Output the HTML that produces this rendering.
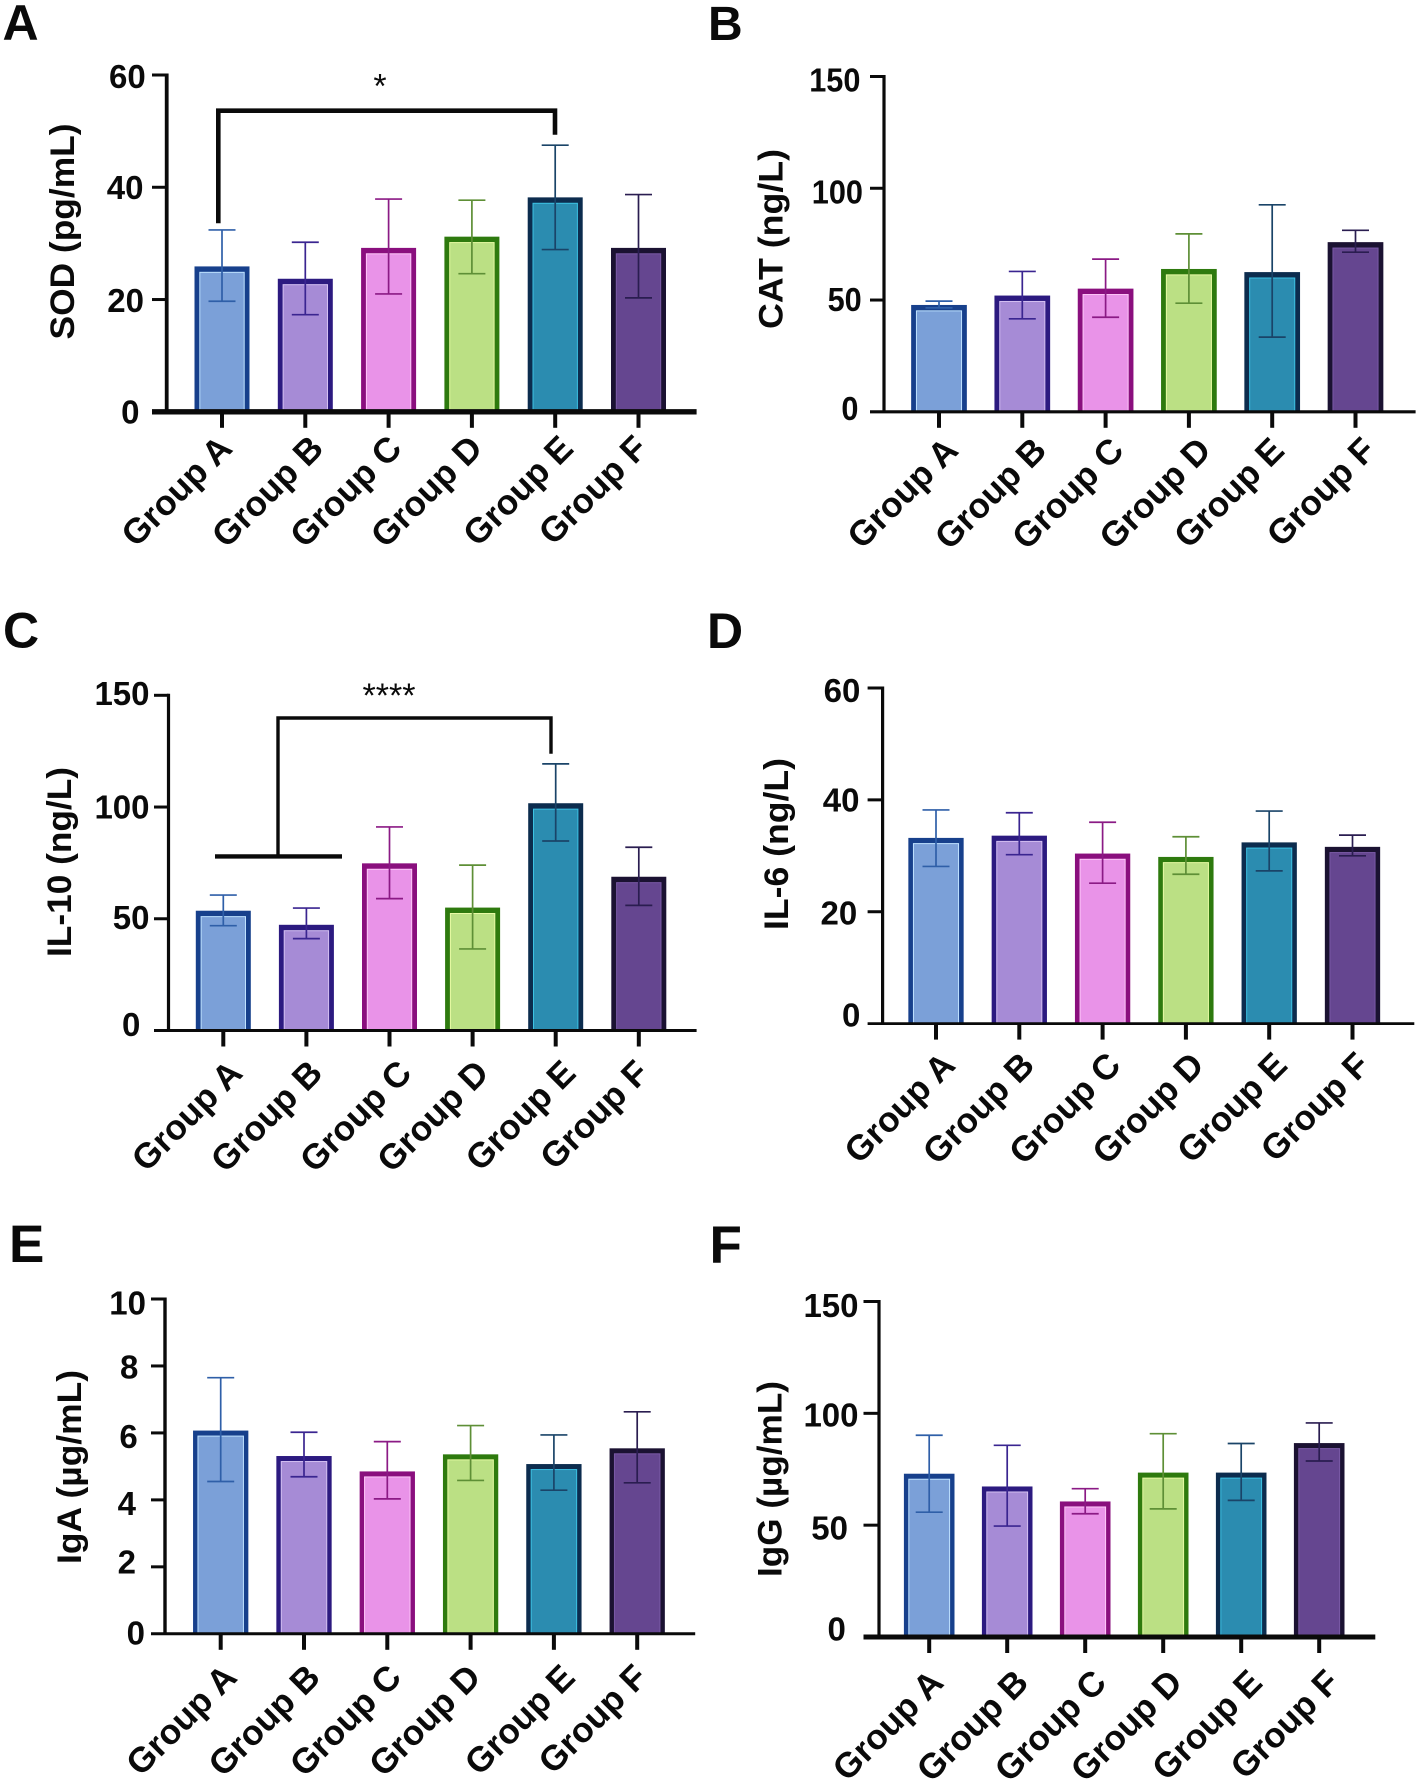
<!DOCTYPE html>
<html lang="en">
<head>
<meta charset="utf-8">
<title>Six-panel group bar charts</title>
<style>
html,body{margin:0;padding:0;background:#fff;overflow:hidden;}
svg{display:block;}
text{font-family:"Liberation Sans",sans-serif;font-weight:700;fill:#0a0a0a;}
</style>
</head>
<body>
<svg id="figure" xmlns="http://www.w3.org/2000/svg" width="1417" height="1787" viewBox="0 0 1417 1787"></svg>
<script>
// ---------- shared categories ----------
const categories = ["Group A", "Group B", "Group C", "Group D", "Group E", "Group F"];

// ---------- panel A: SOD ----------
const sodTicks = [0, 20, 40, 60];
const sodMeans = [25.9, 23.7, 29.2, 31.2, 38.2, 29.2];
const sodUpper = [32.4, 30.2, 37.9, 37.7, 47.5, 38.7];
const sodLower = [19.7, 17.3, 21.0, 24.6, 28.9, 20.3];

// ---------- panel B: CAT ----------
const catTicks = [0, 50, 100, 150];
const catMeans = [47.8, 52.0, 55.1, 63.9, 62.5, 75.9];
const catUpper = [49.5, 62.8, 68.3, 79.6, 92.6, 81.2];
const catLower = [46.5, 41.6, 42.3, 48.6, 33.4, 71.4];

// ---------- panel C: IL-10 ----------
const il10Ticks = [0, 50, 100, 150];
const il10Means = [53.6, 47.3, 74.8, 55.0, 101.7, 68.8];
const il10Upper = [60.6, 54.8, 91.1, 74.0, 119.3, 82.0];
const il10Lower = [46.9, 41.1, 59.0, 36.5, 84.8, 56.0];

// ---------- panel D: IL-6 ----------
const il6Ticks = [0, 20, 40, 60];
const il6Means = [33.2, 33.6, 30.4, 29.8, 32.4, 31.6];
const il6Upper = [38.2, 37.7, 36.0, 33.4, 38.0, 33.7];
const il6Lower = [28.1, 30.2, 25.1, 26.7, 27.3, 30.0];

// ---------- panel E: IgA ----------
const igaTicks = [0, 2, 4, 6, 8, 10];
const igaMeans = [6.07, 5.31, 4.85, 5.36, 5.07, 5.54];
const igaUpper = [7.65, 6.02, 5.74, 6.22, 5.94, 6.63];
const igaLower = [4.55, 4.69, 4.03, 4.58, 4.29, 4.51];

// ---------- panel F: IgG ----------
const iggTicks = [0, 50, 100, 150];
const iggMeans = [73.0, 67.3, 60.6, 73.5, 73.5, 86.7];
const iggUpper = [90.2, 85.7, 66.3, 90.9, 86.5, 95.7];
const iggLower = [55.8, 49.6, 55.1, 57.3, 61.1, 78.7];

// ---------- styling (per category) ----------
const barFill = ["#7ba0d8", "#a68bd6", "#e993e8", "#bbe084", "#2b8cb0", "#654690"];
const barEdge = ["#17408c", "#2c1a80", "#8a0f7e", "#2e7a0e", "#0c2c4e", "#1b1232"];
const barGlow = ["#bfe2ff", "#d4c0f2", "#ffc8fa", "#e8fba4", "#3cc2e4", "#7a5aa6"];
const errColor = ["#2f5fa8", "#3a2590", "#8b1a85", "#5e8f36", "#1a4468", "#2a1d50"];

const svg = document.getElementById("figure");
const NS = "http://www.w3.org/2000/svg";

function make(parent, tag, attrs, text) {
  const el = document.createElementNS(NS, tag);
  for (const k in attrs) el.setAttribute(k, attrs[k]);
  if (text !== undefined) el.textContent = text;
  parent.appendChild(el);
  return el;
}

function drawPanel(p) {
  const panel = make(svg, "g", {});
  
  

  const maxV = p.ticks[p.ticks.length - 1];
  const yOf = v => p.zero - v * (p.zero - p.top) / maxV;
  const xOf = i => p.x0 + i * p.step;

  // panel letter
  const letter = make(panel, "text", {
    x: p.letter.x, y: p.letter.y,
    "font-size": p.letter.size
  }, p.letter.t);
  
  

  // bars + error bars
  categories.forEach((c, i) => {
    const cx = xOf(i);
    const w = p.barW;
    const sw = p.barSw;
    const topSw = sw + 0.6;
    const yTop = yOf(p.means[i]);
    const bar = make(panel, "g", {});
    
    
    make(bar, "rect", { x: cx - w / 2, y: yTop, width: w, height: p.zero - yTop, fill: barEdge[i] });
    make(bar, "rect", { x: cx - w / 2 + sw, y: yTop + topSw, width: w - 2 * sw, height: Math.max(0, p.zero - yTop - topSw), fill: barGlow[i] });
    make(bar, "rect", { x: cx - w / 2 + sw + 1, y: yTop + topSw + 1, width: w - 2 * sw - 2, height: Math.max(0, p.zero - yTop - topSw - 1), fill: barFill[i] });

    const err = make(panel, "g", { stroke: errColor[i], "stroke-width": 1.7, fill: "none" });
    
    
    make(err, "line", { x1: cx, x2: cx, y1: yOf(p.upper[i]), y2: yOf(p.lower[i]) });
    make(err, "line", { x1: cx - 13.5, x2: cx + 13.5, y1: yOf(p.upper[i]), y2: yOf(p.upper[i]) });
    make(err, "line", { x1: cx - 13.5, x2: cx + 13.5, y1: yOf(p.lower[i]), y2: yOf(p.lower[i]) });

    // category tick + label
    const tick = make(panel, "line", { x1: cx, x2: cx, y1: p.zero, y2: p.zero + 16, stroke: "#0a0a0a", "stroke-width": 4 });
    
    

    const lx = cx + p.labelDx[i] + 2;
    const ly = p.zero + p.labelDy + 0.5;
    const label = make(panel, "text", {
      transform: "translate(" + lx + "," + ly + ") rotate(-45)",
      "text-anchor": "end",
      "font-size": p.labelSize
    }, c);
    
    
  });

  // y axis
  const yAxis = make(panel, "line", { x1: p.axisX, x2: p.axisX, y1: p.top - 1.5, y2: p.zero, stroke: "#0a0a0a", "stroke-width": p.ySw });
  
  

  // x axis
  const xAxis = make(panel, "line", { x1: p.left, x2: p.right, y1: p.zero, y2: p.zero, stroke: "#0a0a0a", "stroke-width": p.xSw });
  
  

  // y ticks + labels
  p.ticks.forEach((t, i) => {
    const ty = yOf(t);
    if (t !== 0) {
      const tk = make(panel, "line", { x1: p.left, x2: p.axisX, y1: ty, y2: ty, stroke: "#0a0a0a", "stroke-width": 3 });
      
      
    }
    const tl = make(panel, "text", {
      transform: "translate(" + p.valueRight[i] + "," + (ty + p.valueDy[i] + 11.6) + ") scale(" + (p.valueSx || 1) + ",1)",
      "text-anchor": "end",
      "font-size": 33
    }, String(t));
    
    
  });

  // y title
  const title = make(panel, "text", {
    transform: "translate(" + p.title.x + "," + p.title.y + ") rotate(-90)",
    "font-size": 34,
    textLength: p.title.len,
    lengthAdjust: "spacingAndGlyphs"
  }, p.title.t);
  
  

  // significance bracket
  if (p.bracket) {
    const b = p.bracket;
    const br = make(panel, "path", { d: b.d, fill: "none", stroke: "#0a0a0a", "stroke-width": b.sw });
    
    
    if (b.bar) {
      const hb = make(panel, "path", { d: b.bar, fill: "none", stroke: "#0a0a0a", "stroke-width": 4.4 });
      
      
    }
    const st = make(panel, "text", {
      x: b.sx, y: b.sy, "text-anchor": "middle",
      "font-size": 34, style: "font-weight:400"
    }, b.star);
    
    
  }
}

drawPanel({
  id: "a", ticks: sodTicks, means: sodMeans, upper: sodUpper, lower: sodLower,
  axisX: 166.7, top: 75, zero: 411.8, left: 152, right: 696.6, x0: 222, step: 83.3,
  barW: 55, barSw: 4.8, xSw: 5.4, ySw: 3.8,
  valueRight: [139.5, 144, 143.5, 145.7], valueDy: [0, 1, 0, 1.5],
  labelDx: [10, 18, 13, 10.5, 18, 9], labelDy: 38, labelSize: 35,
  title: { t: "SOD  (pg/mL)", x: 74, y: 339.5, len: 216 },
  letter: { t: "A", x: 2.5, y: 40, size: 50 },
  bracket: { d: "M218.3 223.3 V110.7 H555 V134.7", sw: 4.6, sx: 380, sy: 97.5, star: "*" }
});
drawPanel({
  id: "b", ticks: catTicks, means: catMeans, upper: catUpper, lower: catLower,
  axisX: 884, top: 76.5, zero: 411.8, left: 870, right: 1415.6, x0: 939, step: 83.3,
  barW: 55.7, barSw: 4.8, xSw: 3.2, ySw: 3.2,
  valueRight: [858.5, 861.7, 863, 860.4], valueDy: [-3.4, -0.8, 3.4, 3.4], valueSx: 0.93,
  labelDx: [19, 24, 18, 22, 12, 20], labelDy: 40, labelSize: 35,
  title: { t: "CAT  (ng/L)", x: 782.5, y: 329, len: 180 },
  letter: { t: "B", x: 708, y: 40, size: 48 }
});
drawPanel({
  id: "c", ticks: il10Ticks, means: il10Means, upper: il10Upper, lower: il10Lower,
  axisX: 168.5, top: 695.3, zero: 1030.5, left: 154, right: 696.6, x0: 223.3, step: 83.1,
  barW: 55, barSw: 4.8, xSw: 3, ySw: 3.2,
  valueRight: [140.4, 149.5, 149.5, 149.5], valueDy: [-6, -1.3, 0, -1.7],
  labelDx: [19, 16, 22, 16, 20, 10], labelDy: 44, labelSize: 35,
  title: { t: "IL-10  (ng/L)", x: 71, y: 957, len: 190 },
  letter: { t: "C", x: 3, y: 647.5, size: 50 },
  bracket: { d: "M278 854.5 V718 H551 V753.8", sw: 3.4, bar: "M215 856.4 H342", sx: 389, sy: 707, star: "****" }
});
drawPanel({
  id: "d", ticks: il6Ticks, means: il6Means, upper: il6Upper, lower: il6Lower,
  axisX: 882.6, top: 688, zero: 1023.6, left: 867.6, right: 1414.3, x0: 936, step: 83.3,
  barW: 55.3, barSw: 4.6, xSw: 2.8, ySw: 3.2,
  valueRight: [860.4, 857.2, 859.5, 860.4], valueDy: [-8.5, 1.3, 0, 2.5],
  labelDx: [19, 15, 18, 18, 18, 17], labelDy: 43, labelSize: 35,
  title: { t: "IL-6  (ng/L)", x: 788, y: 930, len: 172 },
  letter: { t: "D", x: 707, y: 648, size: 50 }
});
drawPanel({
  id: "e", ticks: igaTicks, means: igaMeans, upper: igaUpper, lower: igaLower,
  axisX: 165, top: 1299, zero: 1633.8, left: 151, right: 695.2, x0: 220.7, step: 83.3,
  barW: 55.3, barSw: 4.4, xSw: 3, ySw: 3.4,
  valueRight: [145, 136, 136, 137.7, 138.3, 146], valueDy: [-1, -4.7, 3.4, 3.4, 1, 3.7],
  labelDx: [16, 16, 14, 10, 21, 10], labelDy: 45, labelSize: 35,
  title: { t: "IgA  (\u00b5g/mL)", x: 81, y: 1564, len: 194 },
  letter: { t: "E", x: 9, y: 1262, size: 53 }
});
drawPanel({
  id: "f", ticks: iggTicks, means: iggMeans, upper: iggUpper, lower: iggLower,
  axisX: 879, top: 1301.5, zero: 1637, left: 863.5, right: 1375.3, x0: 929.2, step: 78,
  barW: 50.6, barSw: 4.4, xSw: 5, ySw: 3.2,
  valueRight: [845.9, 848, 858.5, 858.5], valueDy: [-8.3, 2.5, 1.6, 3.7],
  labelDx: [14, 21, 21, 19, 21, 20], labelDy: 47, labelSize: 35,
  title: { t: "IgG  (\u00b5g/mL)", x: 781.5, y: 1577, len: 196 },
  letter: { t: "F", x: 709.5, y: 1263, size: 53 }
});
</script>
</body>
</html>
